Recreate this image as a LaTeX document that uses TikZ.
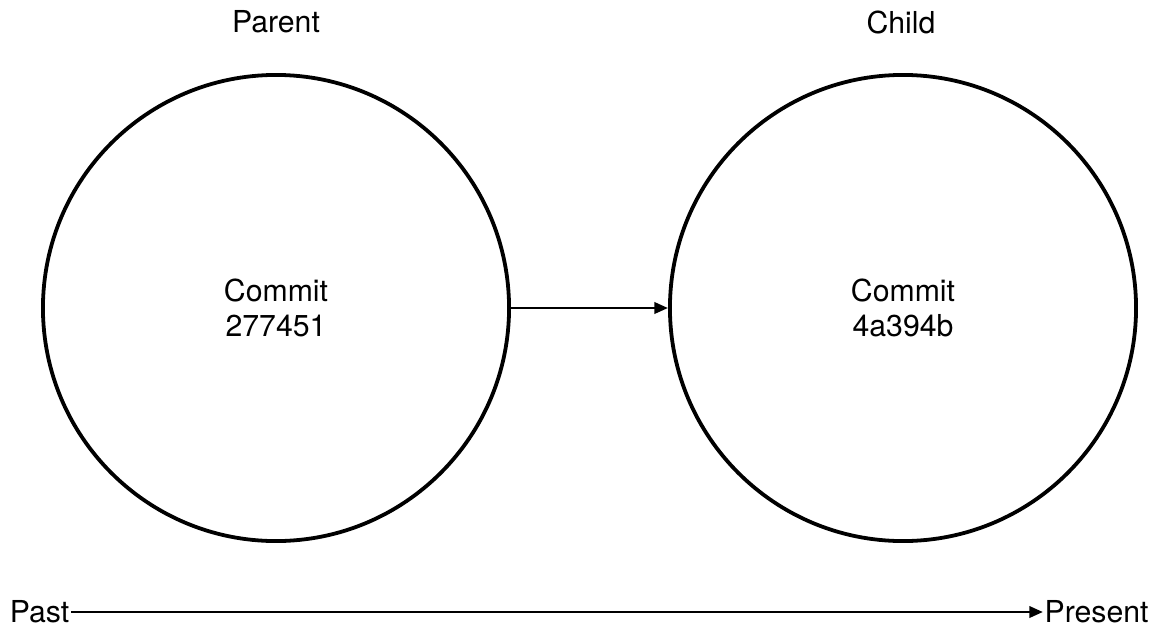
\documentclass[tikz,border=0pt]{standalone}
\usepackage{fontspec}
\setmainfont{TeX Gyre Heros}
\usetikzlibrary{positioning,arrows.meta}

\begin{document}
\begin{tikzpicture}[
  x=0.025cm, y=-0.025cm,
  commit/.style={draw, circle, line width=2.7pt, minimum size=11.65cm, align=center, inner sep=0pt},
  lbl/.style={font=\fontsize{21.5}{24.5}\selectfont, align=center, inner sep=1pt},
  arr/.style={-{Triangle[length=3.4mm, width=2.8mm]}, line width=2pt}]
\useasboundingbox (0,0) rectangle (1164,632);
\node[commit, lbl] (parent) at (276,308) {Commit\\277451};
\node[commit, lbl] (child) at (903,308) {Commit\\4a394b};
\node[lbl] (ptitle) at (276,22) {Parent};
\node[lbl] (ctitle) at (901,22) {Child};
\draw[arr] (parent) -- (child);
\node[lbl, anchor=east] (past) at (71,612) {Past};
\node[lbl, anchor=west] (present) at (1043,612) {Present};
\draw[arr] (past) -- (present);
\end{tikzpicture}
\end{document}
